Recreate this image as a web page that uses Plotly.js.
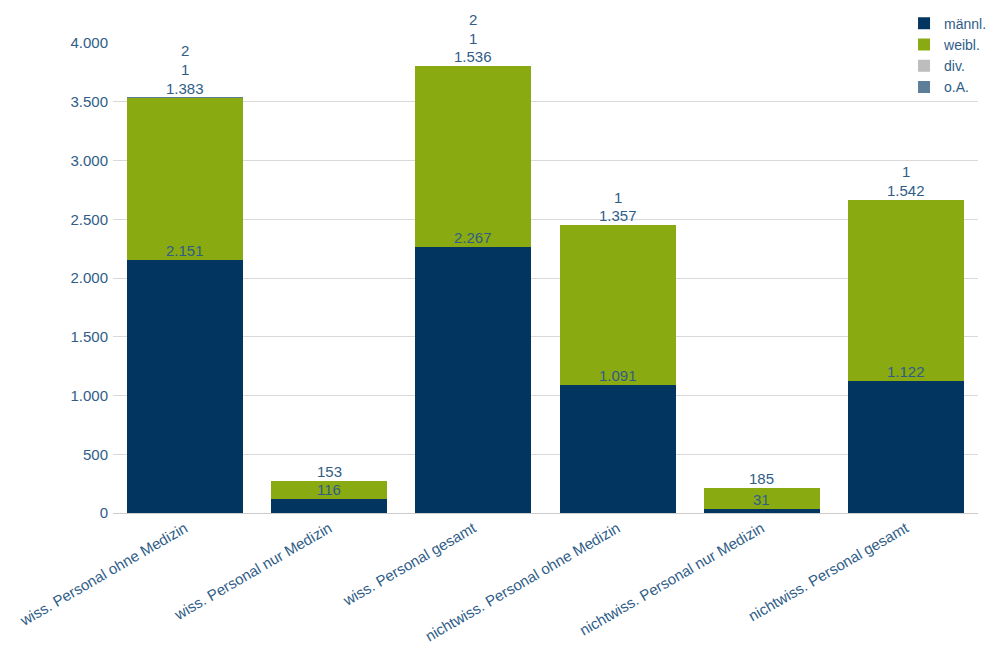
<!DOCTYPE html>
<html>
<head>
<meta charset="utf-8">
<script src="https://cdn.plot.ly/plotly-3.0.1.min.js"></script>
<style>html,body{margin:0;padding:0;background:#fff;}#chart{width:991px;height:660px;}</style>
</head>
<body>
<div id="chart"></div>
<script>
const categories = [
  "wiss. Personal ohne Medizin",
  "wiss. Personal nur Medizin",
  "wiss. Personal gesamt",
  "nichtwiss. Personal ohne Medizin",
  "nichtwiss. Personal nur Medizin",
  "nichtwiss. Personal gesamt"
];
const seriesNames = ["männl.", "weibl.", "div.", "o.A."];
const maennl = [2151, 116, 2267, 1091, 31, 1122];
const weibl  = [1383, 153, 1536, 1357, 185, 1542];
const div    = [1, 0, 1, 1, 0, 1];
const oA     = [2, 0, 2, 0, 0, 0];
const yTicks = [0, 500, 1000, 1500, 2000, 2500, 3000, 3500, 4000];

const colors = ["#02355f", "#8aaa12", "#bdbdbd", "#5d7e98"];
const textColor = "#2f5d88";
const font = "Liberation Sans, Arial, sans-serif";

function fmt(v) {
  return String(v).replace(/\B(?=(\d{3})+(?!\d))/g, ".");
}

const series = [maennl, weibl, div, oA];
const traces = series.map((vals, i) => ({
  type: "bar",
  name: seriesNames[i],
  x: categories,
  y: vals,
  marker: {color: colors[i], line: {width: 0}},
  hoverinfo: "none"
}));

const annotations = [];
categories.forEach((c, ci) => {
  let cum = 0;
  let stackShift = 0;
  series.forEach((vals, si) => {
    const v = vals[ci];
    cum += v;
    if (v > 0) {
      annotations.push({
        x: c, y: cum, xref: "x", yref: "y",
        text: fmt(v), showarrow: false,
        yanchor: "bottom", yshift: stackShift - 1,
        font: {family: font, size: 15, color: textColor}
      });
      if (si >= 1) stackShift += 18.5;
    }
  });
});

const layout = {
  width: 991, height: 660,
  margin: {l: 113, r: 13, t: 43, b: 147, autoexpand: false},
  paper_bgcolor: "#fff", plot_bgcolor: "#fff",
  barmode: "stack",
  bargap: 0.195,
  separators: ",.",
  font: {family: font, size: 15, color: textColor},
  showlegend: true,
  legend: {
    x: 0.9145, y: 1.075, xanchor: "left", yanchor: "top",
    traceorder: "normal",
    bgcolor: "rgba(0,0,0,0)",
    font: {family: font, size: 14, color: textColor},
    tracegroupgap: 0, itemwidth: 30
  },
  xaxis: {
    type: "category",
    tickangle: -30,
    ticks: "",
    showgrid: false,
    showline: true, linecolor: "#cccccc", linewidth: 1,
    tickfont: {family: font, size: 15, color: textColor},
    automargin: false,
    fixedrange: true
  },
  yaxis: {
    range: [0, 4000],
    tickvals: yTicks,
    ticktext: yTicks.map(fmt),
    showgrid: true, gridcolor: "#d9d9d9", gridwidth: 1,
    zeroline: false,
    ticks: "", ticklabelstandoff: 4,
    tickfont: {family: font, size: 15, color: textColor},
    automargin: false,
    fixedrange: true
  },
  annotations: annotations
};

Plotly.newPlot("chart", traces, layout, {displayModeBar: false, staticPlot: true});
</script>
</body>
</html>
